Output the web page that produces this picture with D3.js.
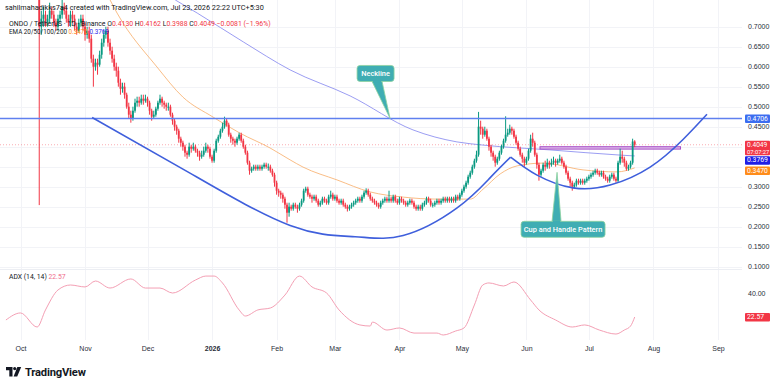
<!DOCTYPE html>
<html lang="en">
<head>
<meta charset="UTF-8">
<title>ONDO / TetherUS 1D</title>
<script src="https://d3js.org/d3.v7.min.js"></script>
<style>
  html, body { margin: 0; padding: 0; background: #fff; }
  svg { display: block; font-family: Roboto, "Liberation Sans", sans-serif; }
</style>
</head>
<body>
<div id="chart"></div>
<script>
// ---- data ----
// daily candles, first one is Oct 10 2025; open = previous close
const startDate = Date.UTC(2025, 9, 10);
const firstOpen = 0.88;
const closes = [
  0.70, 0.72, 0.73, 0.71, 0.72, 0.74, 0.73, 0.71, 0.70, 0.72,
  0.73, 0.75, 0.74, 0.72, 0.71, 0.73, 0.72, 0.70, 0.69, 0.71,
  0.72, 0.70, 0.68, 0.69, 0.67, 0.62, 0.60, 0.61, 0.605, 0.63,
  0.66, 0.68, 0.69, 0.66, 0.64, 0.62, 0.60, 0.59, 0.56, 0.545,
  0.55, 0.53, 0.50, 0.48, 0.47, 0.49, 0.51, 0.515, 0.51, 0.52,
  0.515, 0.52, 0.51, 0.49, 0.475, 0.48, 0.495, 0.51, 0.52, 0.51,
  0.505, 0.50, 0.50, 0.48, 0.465, 0.45, 0.44, 0.42, 0.41, 0.40,
  0.385, 0.38, 0.40, 0.395, 0.40, 0.39, 0.385, 0.375, 0.38, 0.39,
  0.40, 0.395, 0.375, 0.365, 0.39, 0.415, 0.425, 0.44, 0.45, 0.465,
  0.455, 0.43, 0.42, 0.415, 0.41, 0.42, 0.43, 0.415, 0.40, 0.385,
  0.36, 0.34, 0.345, 0.35, 0.345, 0.35, 0.345, 0.35, 0.355, 0.35,
  0.35, 0.34, 0.33, 0.31, 0.29, 0.285, 0.28, 0.27, 0.255, 0.235,
  0.25, 0.245, 0.255, 0.25, 0.245, 0.255, 0.265, 0.29, 0.295, 0.28,
  0.275, 0.27, 0.275, 0.265, 0.255, 0.26, 0.27, 0.265, 0.26, 0.275,
  0.28, 0.27, 0.275, 0.265, 0.26, 0.265, 0.255, 0.25, 0.245, 0.25,
  0.255, 0.26, 0.265, 0.27, 0.265, 0.275, 0.285, 0.29, 0.28, 0.27,
  0.265, 0.26, 0.255, 0.25, 0.26, 0.265, 0.27, 0.265, 0.27, 0.265,
  0.275, 0.265, 0.26, 0.27, 0.265, 0.26, 0.255, 0.26, 0.265, 0.26,
  0.25, 0.245, 0.25, 0.245, 0.255, 0.26, 0.27, 0.265, 0.255, 0.255,
  0.26, 0.265, 0.26, 0.265, 0.27, 0.265, 0.27, 0.265, 0.27, 0.265,
  0.275, 0.27, 0.28, 0.29, 0.30, 0.31, 0.325, 0.335, 0.35, 0.365,
  0.38, 0.45, 0.445, 0.43, 0.44, 0.42, 0.40, 0.385, 0.375, 0.36,
  0.37, 0.385, 0.40, 0.415, 0.43, 0.435, 0.445, 0.44, 0.425, 0.41,
  0.395, 0.38, 0.37, 0.36, 0.37, 0.39, 0.42, 0.41, 0.38, 0.355,
  0.33, 0.34, 0.355, 0.35, 0.36, 0.355, 0.36, 0.365, 0.36, 0.365,
  0.37, 0.36, 0.35, 0.335, 0.32, 0.31, 0.30, 0.305, 0.315, 0.31,
  0.315, 0.31, 0.315, 0.32, 0.325, 0.33, 0.335, 0.34, 0.335, 0.33,
  0.335, 0.325, 0.32, 0.315, 0.325, 0.33, 0.32, 0.315, 0.36, 0.375,
  0.37, 0.36, 0.345, 0.35, 0.36, 0.413, 0.4049
];
const highs = [
  0.90, 0.74, 0.75, 0.74, 0.73, 0.76, 0.75, 0.74, 0.72, 0.73,
  0.74, 0.77, 0.76, 0.75, 0.73, 0.74, 0.74, 0.73, 0.71, 0.72,
  0.73, 0.73, 0.71, 0.70, 0.70, 0.68, 0.63, 0.62, 0.62, 0.64,
  0.67, 0.69, 0.70, 0.70, 0.67, 0.65, 0.63, 0.61, 0.60, 0.57,
  0.56, 0.56, 0.535, 0.51, 0.49, 0.50, 0.52, 0.525, 0.525, 0.53,
  0.53, 0.53, 0.525, 0.515, 0.495, 0.49, 0.50, 0.515, 0.53, 0.525,
  0.515, 0.51, 0.51, 0.505, 0.485, 0.47, 0.455, 0.445, 0.425, 0.415,
  0.405, 0.39, 0.41, 0.405, 0.41, 0.405, 0.395, 0.39, 0.39, 0.40,
  0.41, 0.405, 0.40, 0.38, 0.395, 0.42, 0.43, 0.445, 0.46, 0.475,
  0.47, 0.46, 0.435, 0.425, 0.42, 0.425, 0.435, 0.435, 0.42, 0.405,
  0.39, 0.365, 0.35, 0.355, 0.355, 0.355, 0.355, 0.355, 0.36, 0.36,
  0.358, 0.355, 0.345, 0.335, 0.315, 0.295, 0.29, 0.285, 0.275, 0.26,
  0.26, 0.255, 0.26, 0.26, 0.255, 0.26, 0.27, 0.295, 0.30, 0.30,
  0.285, 0.28, 0.28, 0.28, 0.27, 0.265, 0.275, 0.275, 0.27, 0.28,
  0.29, 0.285, 0.28, 0.28, 0.27, 0.27, 0.27, 0.26, 0.255, 0.255,
  0.26, 0.265, 0.27, 0.275, 0.275, 0.28, 0.29, 0.296, 0.295, 0.285,
  0.275, 0.27, 0.265, 0.26, 0.265, 0.27, 0.275, 0.275, 0.29, 0.275,
  0.28, 0.28, 0.27, 0.275, 0.275, 0.27, 0.265, 0.265, 0.27, 0.27,
  0.265, 0.255, 0.255, 0.255, 0.26, 0.265, 0.275, 0.275, 0.27, 0.26,
  0.265, 0.27, 0.27, 0.27, 0.275, 0.275, 0.275, 0.275, 0.275, 0.275,
  0.28, 0.28, 0.285, 0.295, 0.305, 0.315, 0.33, 0.34, 0.355, 0.37,
  0.39, 0.487, 0.465, 0.45, 0.45, 0.445, 0.425, 0.405, 0.39, 0.38,
  0.375, 0.39, 0.405, 0.42, 0.476, 0.445, 0.455, 0.45, 0.445, 0.43,
  0.415, 0.40, 0.385, 0.375, 0.375, 0.395, 0.43, 0.435, 0.415, 0.385,
  0.36, 0.345, 0.36, 0.365, 0.37, 0.365, 0.37, 0.375, 0.37, 0.37,
  0.38, 0.375, 0.365, 0.355, 0.34, 0.325, 0.315, 0.31, 0.32, 0.32,
  0.32, 0.32, 0.32, 0.325, 0.33, 0.335, 0.34, 0.345, 0.345, 0.34,
  0.34, 0.34, 0.33, 0.325, 0.33, 0.335, 0.335, 0.325, 0.365, 0.395,
  0.39, 0.375, 0.365, 0.355, 0.365, 0.42, 0.4162
];
const lows = [
  0.254, 0.68, 0.70, 0.70, 0.70, 0.71, 0.72, 0.70, 0.69, 0.69,
  0.71, 0.72, 0.73, 0.71, 0.70, 0.70, 0.71, 0.69, 0.68, 0.685,
  0.70, 0.69, 0.665, 0.67, 0.66, 0.61, 0.55, 0.59, 0.58, 0.60,
  0.62, 0.65, 0.67, 0.65, 0.63, 0.61, 0.59, 0.575, 0.55, 0.53,
  0.535, 0.52, 0.495, 0.47, 0.46, 0.465, 0.485, 0.50, 0.50, 0.505,
  0.505, 0.51, 0.50, 0.48, 0.465, 0.47, 0.475, 0.49, 0.505, 0.50,
  0.495, 0.49, 0.49, 0.475, 0.455, 0.44, 0.43, 0.41, 0.40, 0.39,
  0.375, 0.37, 0.375, 0.385, 0.39, 0.385, 0.375, 0.365, 0.37, 0.375,
  0.385, 0.385, 0.37, 0.36, 0.36, 0.385, 0.41, 0.42, 0.435, 0.445,
  0.45, 0.425, 0.41, 0.405, 0.40, 0.405, 0.415, 0.41, 0.395, 0.38,
  0.355, 0.33, 0.335, 0.34, 0.34, 0.34, 0.34, 0.34, 0.345, 0.345,
  0.34, 0.335, 0.325, 0.30, 0.28, 0.275, 0.27, 0.26, 0.245, 0.21,
  0.225, 0.24, 0.24, 0.245, 0.235, 0.24, 0.25, 0.26, 0.285, 0.275,
  0.27, 0.26, 0.265, 0.26, 0.25, 0.25, 0.255, 0.26, 0.255, 0.255,
  0.27, 0.265, 0.265, 0.26, 0.255, 0.255, 0.25, 0.245, 0.238, 0.24,
  0.245, 0.25, 0.255, 0.26, 0.26, 0.26, 0.27, 0.28, 0.275, 0.265,
  0.26, 0.255, 0.25, 0.245, 0.245, 0.255, 0.26, 0.26, 0.26, 0.26,
  0.26, 0.26, 0.255, 0.255, 0.26, 0.255, 0.25, 0.25, 0.255, 0.255,
  0.245, 0.24, 0.24, 0.24, 0.24, 0.25, 0.255, 0.26, 0.25, 0.248,
  0.25, 0.255, 0.255, 0.255, 0.26, 0.26, 0.26, 0.26, 0.26, 0.26,
  0.26, 0.265, 0.265, 0.275, 0.285, 0.295, 0.305, 0.32, 0.33, 0.345,
  0.36, 0.375, 0.43, 0.42, 0.425, 0.415, 0.39, 0.375, 0.365, 0.35,
  0.355, 0.365, 0.38, 0.395, 0.41, 0.425, 0.43, 0.43, 0.42, 0.405,
  0.39, 0.375, 0.36, 0.35, 0.355, 0.365, 0.385, 0.40, 0.375, 0.345,
  0.315, 0.325, 0.335, 0.34, 0.345, 0.345, 0.35, 0.355, 0.35, 0.355,
  0.36, 0.355, 0.345, 0.33, 0.315, 0.30, 0.29, 0.295, 0.30, 0.305,
  0.305, 0.305, 0.305, 0.31, 0.315, 0.32, 0.325, 0.33, 0.33, 0.325,
  0.325, 0.32, 0.315, 0.31, 0.31, 0.32, 0.315, 0.31, 0.31, 0.355,
  0.36, 0.35, 0.34, 0.34, 0.345, 0.355, 0.3988
];

// moving averages (day index from Oct 10, value)
const ema50Days   = [34, 37.4, 56.6, 69, 83.5, 96.4, 110.8, 120.5, 126.7, 143, 158.9, 174.8, 191.1, 207, 213.2, 221.4, 229.5, 242, 261.2, 277.5, 286];
const ema50Values = [0.767, 0.734, 0.599, 0.524, 0.474, 0.434, 0.397, 0.367, 0.349, 0.317, 0.287, 0.274, 0.269, 0.269, 0.294, 0.332, 0.352, 0.359, 0.342, 0.337, 0.347];
const ema200Days   = [65.3, 75.9, 98, 120.5, 149.3, 179.5, 200.6, 213.2, 245.3, 279, 286];
const ema200Values = [0.767, 0.734, 0.662, 0.592, 0.527, 0.442, 0.412, 0.404, 0.392, 0.379, 0.3769];

// ADX (14, 14)
const adxDays = [-16, -9, -1, 3, 9, 15, 22, 27, 34, 44, 51, 58, 64, 75, 80, 84, 88, 96, 99, 105, 111, 118, 125, 131, 138, 144, 154, 159, 160, 167, 173, 180, 191, 194, 200, 204, 209, 213, 216, 223, 228, 236, 240, 248, 256, 262, 269, 277, 281, 284, 286];
const adxValues = [20.4, 25.5, 15.3, 27.7, 42.2, 45.8, 44.4, 48.7, 43.6, 50.2, 43.6, 43.6, 40, 49.4, 52.3, 52.3, 47.3, 27.7, 23.3, 27.7, 29.1, 38.5, 52.3, 44.4, 40, 27.7, 16.8, 16.0, 18.9, 13.1, 14.6, 10.9, 10.9, 9.5, 12.4, 14.6, 31.3, 45.8, 47.3, 45.1, 48.0, 34.9, 27.7, 20.4, 15.3, 16.8, 13.1, 10.2, 13.1, 16.0, 22.57];

// drawn pattern
const neckline = 0.4706;
const lastPrice = 0.4049;
const cupDays    = [25.4, 72.4, 120.5, 151.7, 174.8, 200.7, 216.5, 226.4];
const cupPrices  = [0.473, 0.334, 0.203, 0.175, 0.178, 0.247, 0.322, 0.374];
const handleDays   = [226.4, 239.1, 256.4, 274.2, 293.4, 309.2, 320.7];
const handlePrices = [0.374, 0.329, 0.297, 0.304, 0.349, 0.418, 0.481];
const zoneDays   = [240.5, 308];
const zonePrices = [0.400, 0.394];
const necklineTipDay = 168.5;
const cupTip = [248.7, 0.336];

const priceTicks = [0.1, 0.15, 0.2, 0.25, 0.3, 0.35, 0.4, 0.45, 0.5, 0.55, 0.6, 0.65, 0.7];
const priceTickLabels = [0.1, 0.15, 0.2, 0.25, 0.3, 0.45, 0.5, 0.55, 0.6, 0.65, 0.7];
const monthTicks = ["2025-10-01", "2025-11-01", "2025-12-01", "2026-01-01", "2026-02-01", "2026-03-01",
                    "2026-04-01", "2026-05-01", "2026-06-01", "2026-07-01", "2026-08-01", "2026-09-01"];

// ---- layout ----
const width = 783, height = 388;
const plotRight = 742;
const up = "#089981", down = "#f23645";

const svg = d3.select("#chart").append("svg")
  .attr("width", width).attr("height", height);

const x = d3.scaleUtc()
  .domain([new Date("2025-10-01"), new Date("2026-09-01")])
  .range([20.5, 718]);
const dayX = i => x(new Date(startDate + i * 864e5));
const y = d3.scaleLinear().domain([0.1, 0.7]).range([266.7, 26.7]);
const yAdx = d3.scaleLinear().domain([22.57, 40]).range([317, 293]);

const defs = svg.append("defs");
defs.append("clipPath").attr("id", "pricePane")
  .append("rect").attr("x", 0).attr("y", 0).attr("width", plotRight).attr("height", 268);
defs.append("clipPath").attr("id", "adxPane")
  .append("rect").attr("x", 0).attr("y", 270).attr("width", plotRight).attr("height", 70);

// grid
const grid = svg.append("g").attr("stroke", "#f2f3f7").attr("stroke-width", 1);
grid.selectAll("line.h").data(priceTicks).join("line")
  .attr("x1", 0).attr("x2", plotRight)
  .attr("y1", d => Math.round(y(d)) + 0.5).attr("y2", d => Math.round(y(d)) + 0.5);
grid.selectAll("line.v").data(monthTicks).join("line")
  .attr("x1", d => Math.round(x(new Date(d))) + 0.5).attr("x2", d => Math.round(x(new Date(d))) + 0.5)
  .attr("y1", 0).attr("y2", 340);
svg.append("line").attr("x1", 0).attr("x2", plotRight).attr("y1", 269.5).attr("y2", 269.5)
  .attr("stroke", "#eceef3");

const price = svg.append("g").attr("clip-path", "url(#pricePane)");

// current price line
price.append("line")
  .attr("x1", 0).attr("x2", plotRight)
  .attr("y1", y(lastPrice)).attr("y2", y(lastPrice))
  .attr("stroke", down).attr("stroke-opacity", 0.4).attr("stroke-dasharray", "1,2");

// moving averages
const maLine = d3.line().x(d => dayX(d[0])).y(d => y(d[1])).curve(d3.curveMonotoneX);
price.append("path")
  .datum(ema50Days.map((d, i) => [d, ema50Values[i]]))
  .attr("d", maLine).attr("fill", "none").attr("stroke", "#f7a75e").attr("stroke-opacity", 0.75).attr("stroke-width", 1);
price.append("path")
  .datum(ema200Days.map((d, i) => [d, ema200Values[i]]))
  .attr("d", maLine).attr("fill", "none").attr("stroke", "#8a8cf0").attr("stroke-opacity", 0.85).attr("stroke-width", 1);

// purple zone
price.append("rect")
  .attr("x", dayX(zoneDays[0])).attr("width", dayX(zoneDays[1]) - dayX(zoneDays[0]))
  .attr("y", y(zonePrices[0])).attr("height", y(zonePrices[1]) - y(zonePrices[0]))
  .attr("fill", "#cf8fe0").attr("fill-opacity", 0.6)
  .attr("stroke", "#a74fc7").attr("stroke-width", 1);

// candles
const candles = closes.map((c, i) => ({
  i, o: i === 0 ? firstOpen : closes[i - 1], c, h: highs[i], l: lows[i]
}));
const bodyW = 1.8;
const cg = price.append("g");
cg.selectAll("line").data(candles).join("line")
  .attr("x1", d => dayX(d.i)).attr("x2", d => dayX(d.i))
  .attr("y1", d => y(d.h)).attr("y2", d => y(d.l))
  .attr("stroke", d => d.c >= d.o ? up : down).attr("stroke-width", 1);
cg.selectAll("rect").data(candles).join("rect")
  .attr("x", d => dayX(d.i) - bodyW / 2).attr("width", bodyW)
  .attr("y", d => y(Math.max(d.o, d.c)))
  .attr("height", d => Math.max(1, Math.abs(y(d.o) - y(d.c))))
  .attr("fill", d => d.c >= d.o ? up : down);

// neckline
price.append("line")
  .attr("x1", 0).attr("x2", plotRight)
  .attr("y1", y(neckline)).attr("y2", y(neckline))
  .attr("stroke", "#5f80ef").attr("stroke-width", 1.6);

// cup and handle curves
const patLine = d3.line().x(d => dayX(d[0])).y(d => y(d[1])).curve(d3.curveNatural);
price.append("path")
  .datum(cupDays.map((d, i) => [d, cupPrices[i]]))
  .attr("d", patLine).attr("fill", "none").attr("stroke", "#3f5fdc").attr("stroke-width", 1.6);
price.append("path")
  .datum(handleDays.map((d, i) => [d, handlePrices[i]]))
  .attr("d", patLine).attr("fill", "none").attr("stroke", "#3f5fdc").attr("stroke-width", 1.6);

// callouts
function callout(tipX, tipY, bx, by, bw, bh, tailL, tailR, label) {
  const g = svg.append("g");
  const tailY = tipY < by ? by : by + bh;
  g.append("path")
    .attr("d", `M${tailL},${tailY} L${tipX},${tipY} L${tailR},${tailY} Z`)
    .attr("fill", "#3fadb3").attr("stroke", "#8fd3a0").attr("stroke-width", 0.8);
  g.append("rect").attr("x", bx).attr("y", by).attr("width", bw).attr("height", bh).attr("rx", 3)
    .attr("fill", "#3fadb3").attr("stroke", "#8fd3a0").attr("stroke-width", 0.8);
  g.append("path")
    .attr("d", `M${tailL + 0.8},${tailY} L${tailR - 0.8},${tailY}`)
    .attr("stroke", "#3fadb3").attr("stroke-width", 1.6);
  g.append("text").attr("x", bx + bw / 2).attr("y", by + bh / 2 + 2.6)
    .attr("text-anchor", "middle").attr("fill", "#fff")
    .attr("font-size", 7.4).attr("font-weight", 500).text(label);
}
const nx = dayX(necklineTipDay), ny = y(neckline);
callout(nx, ny, nx - 33, ny - 53, 37, 16, nx - 18, nx - 8, "Neckline");
const cx = dayX(cupTip[0]), cy = y(cupTip[1]);
callout(cx, cy, cx - 36, cy + 49, 84, 16, cx - 5, cx + 4, "Cup and Handle Pattern");

// ADX pane
const adx = svg.append("g").attr("clip-path", "url(#adxPane)");
adx.append("path")
  .datum(adxDays.map((d, i) => [d, adxValues[i]]))
  .attr("d", d3.line().x(d => dayX(d[0])).y(d => yAdx(d[1])).curve(d3.curveMonotoneX))
  .attr("fill", "none").attr("stroke", "#f49fb4").attr("stroke-width", 1);

// right price axis
const yAxis = svg.append("g").attr("transform", `translate(${plotRight + 4},0)`)
  .call(d3.axisRight(y).tickValues(priceTickLabels).tickSize(0).tickPadding(2).tickFormat(d3.format(".4f")));
yAxis.select(".domain").remove();
yAxis.selectAll("text").attr("font-size", 7).attr("fill", "#2a2e39");

const adxAxis = svg.append("g").attr("transform", `translate(${plotRight + 4},0)`)
  .call(d3.axisRight(yAdx).tickValues([40]).tickSize(0).tickPadding(2).tickFormat(d3.format(".2f")));
adxAxis.select(".domain").remove();
adxAxis.selectAll("text").attr("font-size", 7).attr("fill", "#2a2e39");

// time axis
const xAxis = svg.append("g").attr("transform", "translate(0,343)")
  .call(d3.axisBottom(x).tickValues(monthTicks.map(d => new Date(d))).tickSize(0).tickPadding(3)
    .tickFormat(d => d.getUTCMonth() === 0 ? d.getUTCFullYear() : d3.utcFormat("%b")(d)));
xAxis.select(".domain").remove();
xAxis.selectAll("text").attr("font-size", 7).attr("fill", "#2a2e39")
  .attr("font-weight", d => d.getUTCMonth() === 0 ? 700 : 400);

// price tags on the axis (shift = nudge so stacked tags don't collide)
function tag(v, scale, fill, label, shift, extra) {
  const cy = scale(v) + shift;
  const g = svg.append("g");
  g.append("rect").attr("x", plotRight + 3).attr("y", cy - 4)
    .attr("width", 25).attr("height", extra ? 14.5 : 8.5)
    .attr("rx", 1).attr("fill", fill);
  g.append("text").attr("x", plotRight + 5).attr("y", cy + 2.2)
    .attr("font-size", extra ? 6.6 : 6.8).attr("fill", "#fff").text(label);
  if (extra) {
    g.append("text").attr("x", plotRight + 5).attr("y", cy + 9.2)
      .attr("font-size", 5.8).attr("fill", "#fff").text(extra);
  }
}
tag(neckline, y, "#3c6df0", "0.4706", 0);
tag(lastPrice, y, "#f23645", "0.4049", 0, "07:07:27");
tag(0.3769, y, "#1f1ee6", "0.3769", 4.3);
tag(0.3470, y, "#ff8c1a", "0.3470", 2.6);
tag(22.57, yAdx, "#f23645", "22.57", 0);

// legend texts
const legend = svg.append("g").attr("font-size", 6.9).attr("fill", "#131722");
legend.append("text").attr("x", 5).attr("y", 9.5).attr("font-size", 7.3)
  .text("sahilmahadikks7a4 created with TradingView.com, Jul 23, 2026 22:22 UTC+5:30");
const l2 = legend.append("text").attr("x", 9).attr("y", 25.5);
l2.append("tspan").text("ONDO / TetherUS · 1D · Binance ");
[["O", "0.4130"], ["H", "0.4162"], ["L", "0.3988"], ["C", "0.4049"]].forEach(([k, v]) => {
  l2.append("tspan").text(" " + k);
  l2.append("tspan").attr("fill", down).text(v);
});
l2.append("tspan").attr("fill", down).text(" −0.0081 (−1.96%)");
const l3 = legend.append("text").attr("x", 9).attr("y", 34).attr("font-size", 6.3);
l3.append("tspan").text("EMA 20/50/100/200 ");
l3.append("tspan").attr("fill", "#ff8c1a").text("0.3470 ");
l3.append("tspan").attr("fill", "#2b2bea").text("0.3769");

const l4 = legend.append("text").attr("x", 9).attr("y", 279).attr("font-size", 6.8);
l4.append("tspan").text("ADX (14, 14) ");
l4.append("tspan").attr("fill", "#f06a8a").text(" 22.57");

// TradingView logo
const logo = svg.append("g").attr("transform", "translate(6,367)").attr("fill", "#131722");
logo.append("path").attr("d", "M0,0 H6.5 V9.5 H3.3 V3.2 H0 Z");
logo.append("circle").attr("cx", 8.7).attr("cy", 1.6).attr("r", 1.6);
logo.append("path").attr("d", "M11.3,0 H15.2 L11.2,9.5 H7.6 Z");
svg.append("text").attr("x", 25).attr("y", 376).attr("font-size", 11.2).attr("font-weight", 700)
  .attr("fill", "#131722").attr("letter-spacing", -0.2).text("TradingView");
</script>
</body>
</html>
